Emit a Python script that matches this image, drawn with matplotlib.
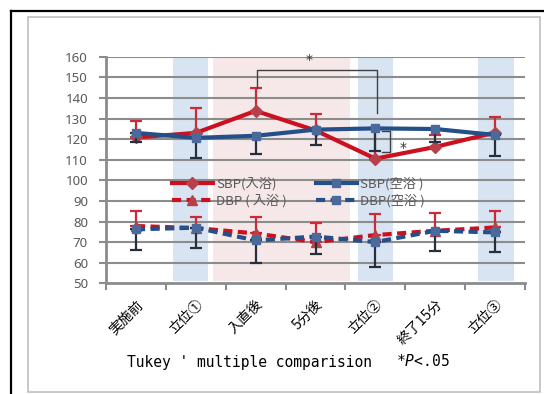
import matplotlib
matplotlib.use("Agg")
import matplotlib.pyplot as plt
from matplotlib.lines import Line2D
from matplotlib.patches import Rectangle

plt.rcParams['font.family'] = ['Noto Sans CJK JP', 'DejaVu Sans']
plt.rcParams['mathtext.fontset'] = 'custom'
plt.rcParams['mathtext.it'] = 'DejaVu Sans Mono:italic'
plt.rcParams['mathtext.rm'] = 'DejaVu Sans Mono'

# ---- data ----
categories = ["実施前", "立位①", "入直後", "5分後", "立位②", "終了15分", "立位③"]
sbp_bath = [120.8, 123.0, 133.7, 124.2, 110.5, 116.2, 123.2]
sbp_bath_sd = [7.9, 12.0, 10.9, 8.0, 14.5, 5.8, 7.6]
sbp_dry = [123.0, 120.6, 121.6, 124.6, 125.2, 124.9, 122.0]
sbp_dry_sd = [4.5, 10.0, 8.6, 7.3, 10.8, 6.5, 10.0]
dbp_bath = [77.8, 76.8, 74.2, 70.0, 73.4, 75.5, 77.1]
dbp_bath_sd = [7.3, 5.5, 7.8, 9.5, 10.2, 8.6, 8.1]
dbp_dry = [76.2, 77.0, 70.8, 72.7, 70.0, 75.5, 74.7]
dbp_dry_sd = [10.0, 9.9, 11.0, 8.5, 12.1, 9.6, 9.4]
yticks = list(range(50, 161, 10))

W, H = 544, 394
fig = plt.figure(figsize=(W / 100, H / 100), dpi=100)

def fx(px):
    return px / W

def fy(py):
    return 1 - py / H

# outer frames
fig.add_artist(Line2D([fx(11), 1], [fy(11), fy(11)], color='black', lw=1.6))
fig.add_artist(Line2D([fx(11), fx(11)], [0, fy(11)], color='black', lw=1.6))
fig.add_artist(Rectangle((fx(28), fy(392)), fx(540) - fx(28), fy(17) - fy(392),
                         fill=False, edgecolor='#BFBFBF', lw=1.2))

ax = fig.add_axes([fx(106), fy(283.3), fx(525) - fx(106), fy(56.7) - fy(283.3)])
ax.set_xlim(-0.5, len(categories) - 0.5)
ax.set_ylim(50, 160)

# shaded phases
blue_band = '#D9E4F2'
pink_band = '#F6E8E8'
ax.axvspan(0.62, 1.21, ymin=0.01, ymax=1, color=blue_band, zorder=0, lw=0)
ax.axvspan(1.29, 3.58, ymin=0.01, ymax=1, color=pink_band, zorder=0, lw=0)
ax.axvspan(3.71, 4.30, ymin=0.01, ymax=1, color=blue_band, zorder=0, lw=0)
ax.axvspan(5.72, 6.31, ymin=0.01, ymax=1, color=blue_band, zorder=0, lw=0)

grid_c = '#8C8C8C'
for y in yticks[1:]:
    ax.axhline(y, color=grid_c, lw=1.5, zorder=1)

x = list(range(len(categories)))
red_line = '#CC1020'
red_mk = '#B8404A'
red_err = '#CC2A36'
blue_line = '#24508A'
blue_mk = '#4A6A9C'
blue_err = '#262F3C'

# SBP bath
ax.errorbar(x, sbp_bath, yerr=[[0] * 7, sbp_bath_sd], fmt='none', ecolor=red_err,
            elinewidth=1.6, capsize=4, capthick=1.6, zorder=3)
ax.plot(x, sbp_bath, color=red_line, lw=3, marker='D', ms=6.5, mfc=red_mk, mec=red_mk,
        zorder=4, label='SBP(入浴)')
# DBP bath
ax.errorbar(x, dbp_bath, yerr=[[0] * 7, dbp_bath_sd], fmt='none', ecolor=red_err,
            elinewidth=1.6, capsize=4, capthick=1.6, zorder=3)
ax.plot(x, dbp_bath, color=red_line, lw=3, dashes=(2.2, 1.3), marker='^', ms=6.5,
        mfc=red_mk, mec=red_mk, zorder=4, label='DBP ( 入浴 )')
# SBP dry
ax.errorbar(x, sbp_dry, yerr=[sbp_dry_sd, [0] * 7], fmt='none', ecolor=blue_err,
            elinewidth=1.6, capsize=4, capthick=1.6, zorder=5)
ax.plot(x, sbp_dry, color=blue_line, lw=3, marker='s', ms=5.5, mfc=blue_mk, mec=blue_mk,
        zorder=6, label='SBP(空浴 )')
# DBP dry
ax.errorbar(x, dbp_dry, yerr=[dbp_dry_sd, [0] * 7], fmt='none', ecolor=blue_err,
            elinewidth=1.6, capsize=4, capthick=1.6, zorder=5)
ax.plot(x, dbp_dry, color=blue_line, lw=3, dashes=(2.2, 1.3), marker='s', ms=5.5,
        mfc=blue_mk, mec=blue_mk, zorder=6, label='DBP(空浴 )')

# significance brackets
ax.plot([2.025, 2.025, 4.03, 4.03], [144.8, 153.5, 153.5, 132.7], color='#404040', lw=1, zorder=7)
ax.text(2.89, 158.5, '*', ha='center', va='center', fontsize=10, color='#333333',
        family='DejaVu Sans')
ax.plot([4.11, 4.24, 4.24, 4.11], [123.8, 123.8, 113.6, 113.6], color='#404040', lw=1, zorder=7)
ax.text(4.46, 115.7, '*', ha='center', va='center', fontsize=10, color='#333333',
        family='DejaVu Sans')

# axes styling
for s in ['top', 'right']:
    ax.spines[s].set_visible(False)
for s in ['left', 'bottom']:
    ax.spines[s].set_color(grid_c)
    ax.spines[s].set_linewidth(2)
ax.set_yticks(yticks)
ax.set_yticklabels([str(v) for v in yticks], fontsize=9.5, color='#595959', family='Noto Sans')
ax.tick_params(axis='y', length=5, width=1.5, color=grid_c, pad=8)
ax.set_xticks(x)
ax.set_xticklabels(categories, rotation=45, ha='right', rotation_mode='anchor', fontsize=10,
                   color='black')
ax.tick_params(axis='x', which='major', length=0, pad=10)
ax.set_xticks([i - 0.5 for i in range(len(categories) + 1)], minor=True)
ax.tick_params(axis='x', which='minor', length=5, width=1.5, color=grid_c)

leg = ax.legend(ncol=2, loc='upper left', bbox_to_anchor=(fx(172), fy(177)),
                bbox_transform=fig.transFigure, frameon=False, fontsize=9.5,
                handlelength=3.1, handletextpad=0.25, columnspacing=2.2,
                labelspacing=0.3, borderaxespad=0, borderpad=0)
for t in leg.get_texts():
    t.set_color('#595959')

fig.text(fx(127), fy(366.5), "Tukey ' multiple comparision", family='DejaVu Sans Mono',
         fontsize=10.5, va='baseline', ha='left')
fig.text(fx(396), fy(366.5), r"*$\mathit{P}$<.05", family='DejaVu Sans Mono',
         fontsize=10.5, va='baseline', ha='left')

fig.savefig('out.png', dpi=100)
